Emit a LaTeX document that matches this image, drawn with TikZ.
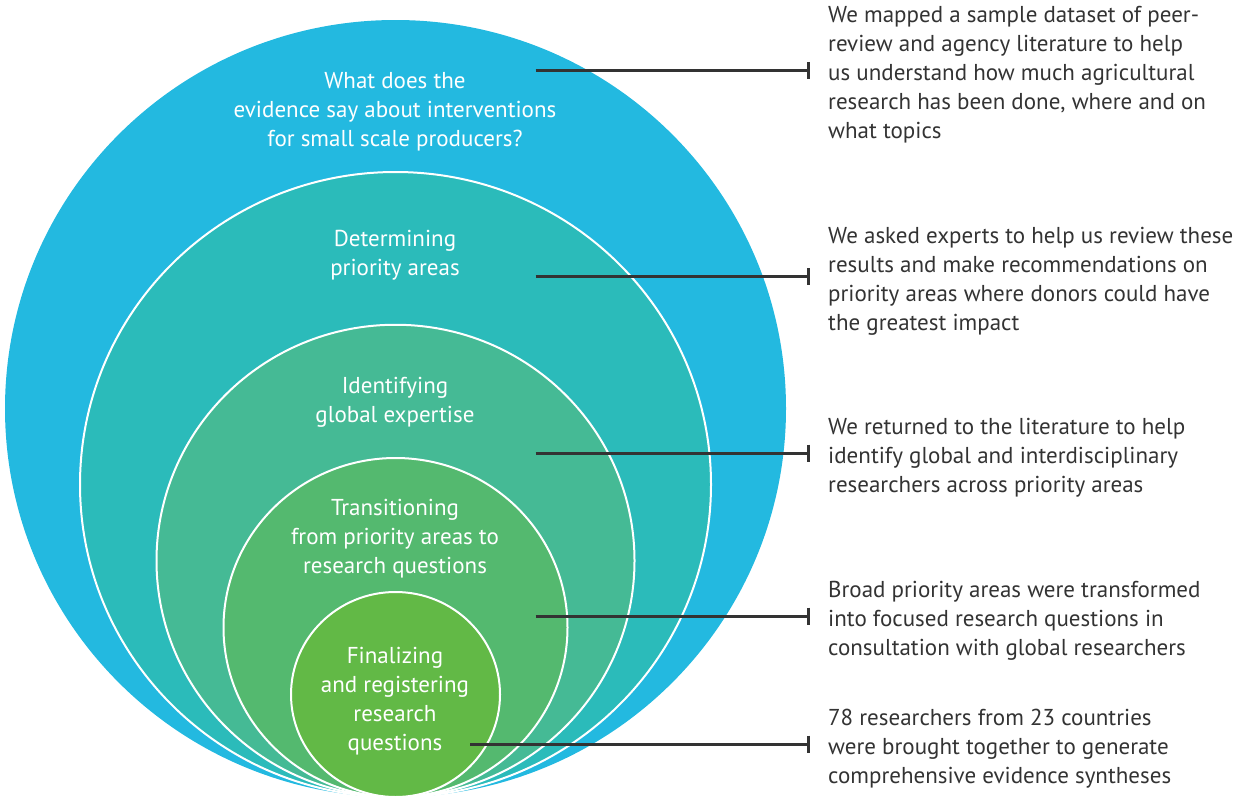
\documentclass[tikz,border=0pt]{standalone}
\usepackage{fontspec}
\setmainfont{PT Sans}
\usetikzlibrary{arrows.meta}
\definecolor{sky}{RGB}{35,185,224}
\definecolor{teal}{RGB}{43,187,186}
\definecolor{sea}{RGB}{69,186,149}
\definecolor{leaf}{RGB}{84,185,111}
\definecolor{grass}{RGB}{98,185,70}
\definecolor{ink}{RGB}{51,51,51}
\newcommand{\drawring}[4]{\filldraw[white, line width=2pt, fill=#1] (395.5,#2) ellipse (#3pt and #4pt);}
\tikzset{
  ringtext/.style={text=white, align=center, font=\fontsize{23}{29}\selectfont},
  desc/.style={text=ink, align=left, anchor=west, inner xsep=18pt, inner ysep=0pt, font=\fontsize{23}{29}\selectfont},
  link/.style={draw=ink, line width=3pt, -{Bar[width=17pt,line width=3pt]}}
}

\begin{document}
\begin{tikzpicture}[x=1pt,y=-1pt]
\useasboundingbox (0,0) rectangle (1239,803);
\fill[sky] (395.5,408.5) ellipse (390.5pt and 388.5pt);
    \drawring{teal}{484.5}{315.5}{312.5}
    \drawring{sea}{560.75}{239}{236}
    \drawring{leaf}{627.5}{172}{169.5}
    \drawring{grass}{694.5}{104.5}{102.5}
% ring labels
\node[ringtext] (q1) at (395,112) {What does the\\evidence say about interventions\\for small scale producers?};
\node[ringtext] (q2) at (395,255.5) {Determining\\priority areas};
\node[ringtext] (q3) at (395,402) {Identifying\\global expertise};
\node[ringtext] (q4) at (395,538.5) {Transitioning\\from priority areas to\\research questions};
\node[ringtext] (q5) at (395,701.5) {Finalizing\\and registering\\research\\questions};
% descriptions
\node[desc] (d1) at (810,75) {We mapped a sample dataset of peer-\\review and agency literature to help\\us understand how much agricultural\\research has been done, where and on\\what topics};
\node[desc] (d2) at (810,281) {We asked experts to help us review these\\results and make recommendations on\\priority areas where donors could have\\the greatest impact};
\node[desc] (d3) at (810,458) {We returned to the literature to help\\identify global and interdisciplinary\\researchers across priority areas};
\node[desc] (d4) at (810,621) {Broad priority areas were transformed\\into focused research questions in\\consultation with global researchers};
\node[desc] (d5) at (810,749) {78 researchers from 23 countries\\were brought together to generate\\comprehensive evidence syntheses};
\coordinate (c1) at (535.5,70.4);
\coordinate (c2) at (535.5,276.5);
\coordinate (c3) at (535.5,453);
\coordinate (c4) at (535.5,616);
\coordinate (c5) at (470,744);
\foreach \i in {1,...,5}{
  \draw[link] (c\i) -- (c\i -| d\i.west);
}
\end{tikzpicture}
\end{document}
